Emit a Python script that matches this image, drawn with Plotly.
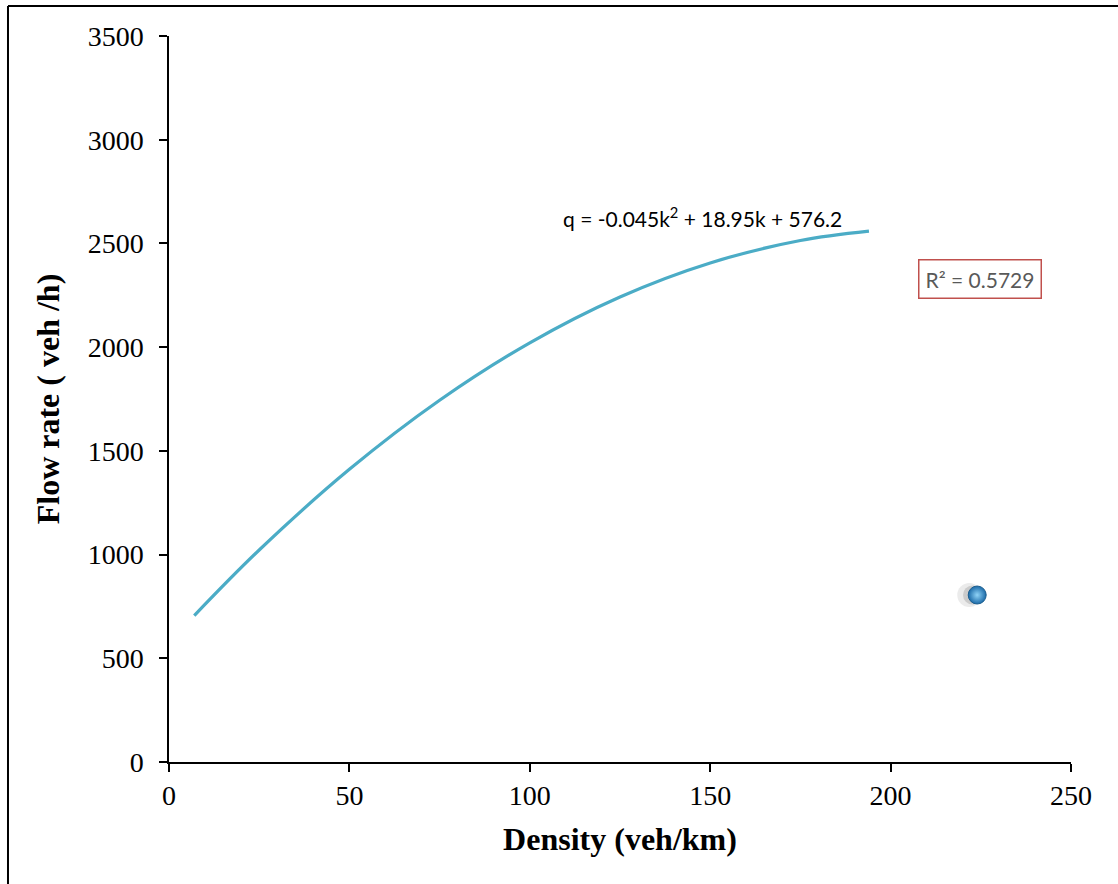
import plotly.graph_objects as go

# Trendline values (density k, flow q)
curve_k = [7, 25, 50, 75, 100, 125, 150, 175, 194]
curve_q = [706, 1022, 1411, 1744, 2021, 2242, 2406, 2514, 2559]

# Observed point
point_k = [224]
point_q = [805]

x_ticks = [0, 50, 100, 150, 200, 250]
y_ticks = [0, 500, 1000, 1500, 2000, 2500, 3000, 3500]

equation_text = "q = -0.045k<sup>2</sup> + 18.95k + 576.2"
r2_text = "R² = 0.5729"

fig = go.Figure()

fig.add_trace(go.Scatter(
    x=curve_k, y=curve_q, mode="lines", line=dict(color="#4BACC6", width=3.2, shape="spline"),
    showlegend=False, hoverinfo="skip"))

# soft shadow behind the point
fig.add_trace(go.Scatter(
    x=[k - 2.2 for k in point_k], y=point_q, mode="markers",
    marker=dict(size=24, color="rgba(120,120,120,0.15)", line=dict(width=0)),
    showlegend=False, hoverinfo="skip"))
fig.add_trace(go.Scatter(
    x=[k - 1.3 for k in point_k], y=point_q, mode="markers",
    marker=dict(size=19, color="rgba(90,90,90,0.22)", line=dict(width=0)),
    showlegend=False, hoverinfo="skip"))
fig.add_trace(go.Scatter(
    x=point_k, y=point_q, mode="markers",
    marker=dict(size=18, color="#1B6AA8",
                gradient=dict(type="radial", color="#8FD3F7"),
                line=dict(width=1, color="#1D5F8F")),
    showlegend=False))

axis_font = dict(family="Liberation Serif, Times New Roman, serif", size=28, color="black")
title_font = dict(family="Liberation Serif, Times New Roman, serif", size=32, color="black")

fig.update_layout(
    width=1118, height=884,
    margin=dict(l=169, r=47, t=36, b=122),
    plot_bgcolor="white", paper_bgcolor="white",
    xaxis=dict(range=[0, 250], tickvals=x_ticks, showgrid=False, zeroline=False,
               showline=True, linecolor="black", linewidth=1.5,
               ticks="outside", ticklen=8, tickwidth=1.5, tickcolor="black",
               tickfont=axis_font,
               title=dict(text="<b>Density (veh/km)</b>", font=title_font, standoff=17)),
    yaxis=dict(range=[0, 3500], tickvals=y_ticks, showgrid=False, zeroline=False,
               showline=True, linecolor="black", linewidth=1.5,
               ticks="outside", ticklen=8, tickwidth=1.5, tickcolor="black",
               tickfont=axis_font, ticklabelstandoff=10,
               title=dict(text="<b>Flow rate ( veh /h)</b>", font=title_font, standoff=18)),
    font=axis_font,
)

fig.add_annotation(
    x=0.592, y=0.751, xref="paper", yref="paper", xanchor="center", yanchor="middle",
    text=equation_text, showarrow=False,
    font=dict(family="Lato, Open Sans, sans-serif", size=21, color="black"))

fig.add_annotation(
    x=0.899, y=0.665, xref="paper", yref="paper", xanchor="center", yanchor="middle",
    text=r2_text, showarrow=False, bordercolor="#C0504D", borderwidth=1.5, borderpad=6,
    bgcolor="white",
    font=dict(family="Lato, Open Sans, sans-serif", size=21, color="#595959"))

# outer frame lines (left and top)
fig.add_shape(type="line", xref="paper", yref="paper",
              x0=-0.1785, x1=-0.1785, y0=-0.2, y1=1.0413,
              line=dict(color="black", width=2))
fig.add_shape(type="line", xref="paper", yref="paper",
              x0=-0.1785, x1=1.06, y0=1.0413, y1=1.0413,
              line=dict(color="black", width=2))

fig.write_html("out.html")
